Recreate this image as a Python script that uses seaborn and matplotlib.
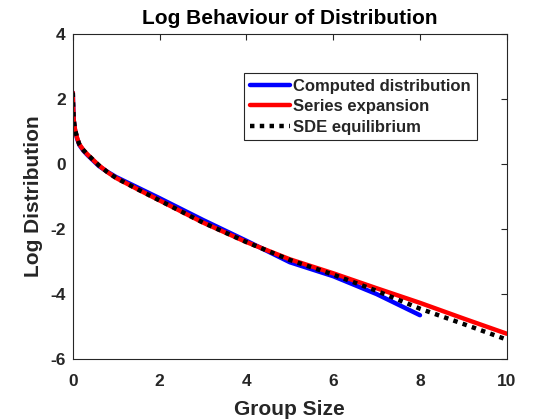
import numpy as np
import pandas as pd
import seaborn as sns
import matplotlib
matplotlib.use("Agg")
import matplotlib.pyplot as plt

# values
x_computed = [0, 0.005, 0.02, 0.05, 0.1, 0.15, 0.25, 0.35, 0.6, 0.8, 1, 2, 3, 4, 5, 6, 7, 8]
y_computed = [2.2, 1.9, 1.37, 1.05, 0.78, 0.59, 0.4, 0.26, -0.06, -0.24, -0.4, -1.05, -1.72, -2.36, -3.02, -3.45, -4.0, -4.65]

x_series = [0, 0.005, 0.02, 0.05, 0.1, 0.15, 0.25, 0.35, 0.6, 0.8, 1, 1.5, 2, 3, 4, 5, 6, 7, 8, 9, 10]
y_series = [2.2, 1.9, 1.37, 1.07, 0.8, 0.61, 0.42, 0.28, -0.04, -0.25, -0.43, -0.78, -1.12, -1.8, -2.4, -2.93, -3.36, -3.82, -4.27, -4.75, -5.22]

x_sde = x_series
y_sde = [2.2, 1.9, 1.37, 1.07, 0.8, 0.61, 0.42, 0.28, -0.04, -0.25, -0.43, -0.78, -1.12, -1.8, -2.4, -2.95, -3.4, -3.9, -4.45, -4.92, -5.4]

labels = ["Computed distribution", "Series expansion", "SDE equilibrium"]

sns.set_style("white")
plt.rcParams["font.family"] = ["Liberation Sans", "DejaVu Sans"]
plt.rcParams["font.weight"] = "bold"
plt.rcParams["axes.unicode_minus"] = False

fig = plt.figure(figsize=(5.6, 4.2), dpi=100)
ax = fig.add_axes([0.130, 0.145, 0.775, 0.774])

sns.lineplot(x=x_computed, y=y_computed, ax=ax, color="#0000ff", lw=3.2,
             sort=False, label=labels[0])
sns.lineplot(x=x_series, y=y_series, ax=ax, color="#ff0000", lw=3.2,
             sort=False, label=labels[1])
sns.lineplot(x=x_sde, y=y_sde, ax=ax, color="black", lw=3.2,
             sort=False, label=labels[2], linestyle=(0, (1, 1.2)),
             dash_capstyle="butt")

ax.set_xlim(0, 10)
ax.set_ylim(-6, 4)
ax.set_xticks([0, 2, 4, 6, 8, 10])
ax.set_yticks([-6, -4, -2, 0, 2, 4])

dark = "#262626"
for s in ax.spines.values():
    s.set_color(dark)
    s.set_linewidth(0.8)
ax.tick_params(direction="in", length=4, width=0.8, colors=dark,
               top=True, right=True, labelsize=12.5)
ax.tick_params(axis="x", pad=11)
ax.tick_params(axis="y", pad=5)
for t in ax.get_xticklabels() + ax.get_yticklabels():
    t.set_fontweight("bold")

ax.set_title("Log Behaviour of Distribution", fontsize=15, fontweight="bold",
             color="black", pad=7)
ax.set_xlabel("Group Size", fontsize=15, fontweight="bold", color=dark, labelpad=8)
ax.set_ylabel("Log Distribution", fontsize=15, fontweight="bold", color=dark, labelpad=5)

leg = ax.legend(loc="upper right", bbox_to_anchor=(0.931, 0.881), borderaxespad=0,
                fontsize=12, handlelength=2.4, handletextpad=0.2,
                borderpad=0.35, labelspacing=0.33, fancybox=False, framealpha=1,
                edgecolor=dark)
leg.get_frame().set_linewidth(0.8)
for t in leg.get_texts():
    t.set_fontweight("bold")

fig.savefig("out.png", dpi=100)
